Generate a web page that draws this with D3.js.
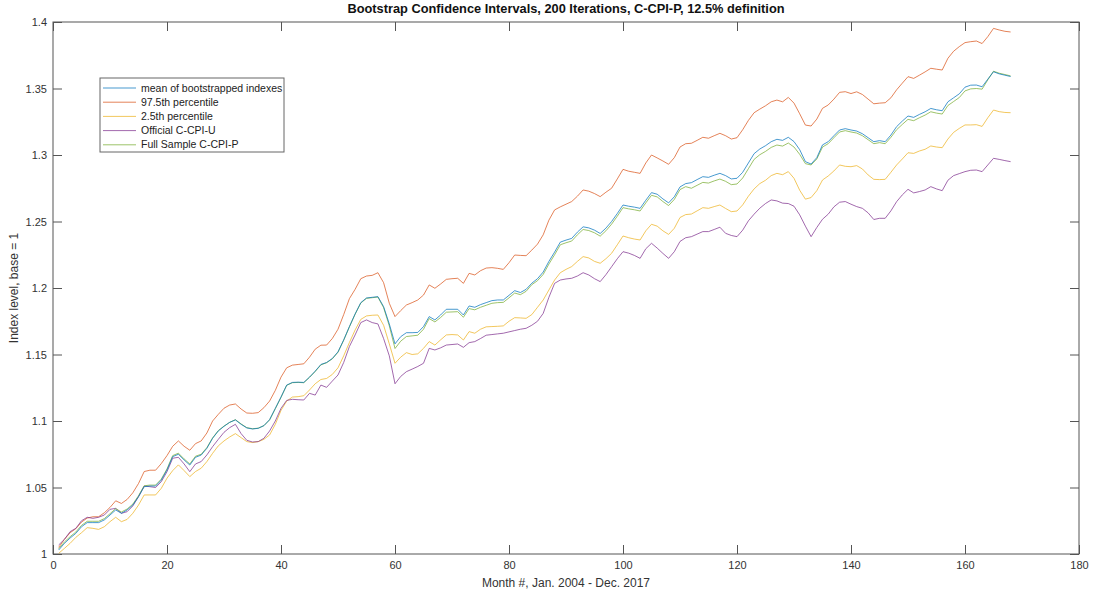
<!DOCTYPE html>
<html>
<head>
<meta charset="utf-8">
<script src="https://cdn.jsdelivr.net/npm/d3@7"></script>
<style>
  body { margin: 0; background: #fff; }
  svg { font-family: "Liberation Sans", Arial, sans-serif; }
  .axis path, .axis line { stroke: #555; }
  .axis text { fill: #333; font-size: 11px; }
</style>
</head>
<body>
<script>
const width = 1096
const height = 596
const margin = {top: 22, right: 17, bottom: 42, left: 53}

// month numbers 1..168 (Jan. 2004 - Dec. 2017)
const months = d3.range(1, 169)

const meanBoot = [
1.003,1.008,1.012,1.0155,1.0205,1.0236,1.0236,1.0236,1.0256,1.0293,1.0331,1.0306,1.0331,1.0368,1.0431,1.0506,1.0511,1.0511,1.0556,1.0632,
1.0732,1.075,1.0707,1.0669,1.0727,1.0744,1.0795,1.087,1.0925,1.096,1.099,1.1008,1.0975,1.0948,1.094,1.0945,1.0965,1.101,1.1095,1.118,
1.127,1.129,1.1292,1.129,1.133,1.1375,1.1425,1.144,1.147,1.152,1.161,1.171,1.1805,1.189,1.1925,1.193,1.1935,1.186,1.173,1.158,
1.1634,1.1664,1.1664,1.1666,1.171,1.1785,1.176,1.1797,1.184,1.184,1.184,1.1797,1.1865,1.1855,1.1875,1.189,1.1905,1.191,1.191,1.1945,
1.198,1.1966,1.199,1.2036,1.207,1.212,1.22,1.227,1.2345,1.236,1.2373,1.242,1.246,1.2452,1.2435,1.241,1.245,1.25,1.256,1.2624,
1.2615,1.2608,1.2599,1.266,1.2717,1.2705,1.267,1.264,1.2686,1.276,1.2785,1.2792,1.2815,1.2837,1.2832,1.2848,1.2862,1.2845,1.282,1.2825,
1.287,1.294,1.301,1.3045,1.307,1.31,1.3118,1.311,1.3133,1.3101,1.304,1.295,1.2932,1.298,1.3076,1.31,1.3145,1.3188,1.3198,1.3188,
1.318,1.316,1.313,1.31,1.3108,1.31,1.315,1.3213,1.3255,1.3293,1.3283,1.3305,1.3325,1.335,1.334,1.3333,1.34,1.343,1.346,1.351,
1.3525,1.3526,1.3513,1.357,1.3626,1.361,1.36,1.359]

const p975 = [
1.005,1.011,1.016,1.019,1.024,1.027,1.028,1.028,1.031,1.035,1.04,1.038,1.041,1.046,1.053,1.062,1.063,1.063,1.068,1.074,
1.081,1.085,1.081,1.078,1.083,1.085,1.091,1.1,1.105,1.1096,1.112,1.1128,1.109,1.106,1.1058,1.1063,1.11,1.115,1.123,1.133,
1.14,1.142,1.1425,1.143,1.148,1.154,1.157,1.1571,1.162,1.169,1.18,1.192,1.199,1.207,1.209,1.2095,1.2115,1.204,1.1885,1.1785,
1.183,1.1872,1.189,1.191,1.1947,1.2023,1.1998,1.203,1.2065,1.207,1.2073,1.2035,1.211,1.2098,1.213,1.215,1.2153,1.2148,1.214,1.219,
1.2248,1.2245,1.2243,1.2285,1.233,1.24,1.251,1.2587,1.261,1.263,1.265,1.269,1.2737,1.2728,1.271,1.2687,1.272,1.275,1.282,1.2892,
1.2878,1.287,1.2862,1.294,1.3,1.2978,1.2955,1.293,1.298,1.306,1.3085,1.3088,1.311,1.3133,1.3126,1.3145,1.3163,1.3145,1.312,1.313,
1.319,1.326,1.3318,1.3345,1.337,1.34,1.3413,1.34,1.3433,1.339,1.331,1.3225,1.3218,1.327,1.3351,1.3376,1.342,1.3471,1.3476,1.3462,
1.3475,1.3455,1.342,1.3385,1.339,1.3393,1.343,1.349,1.354,1.3589,1.3576,1.36,1.3625,1.3652,1.3645,1.3639,1.3727,1.378,1.3815,1.3845,
1.3852,1.3857,1.3838,1.389,1.3952,1.394,1.393,1.3925]

const p025 = [
1.0005,1.0042,1.008,1.0125,1.016,1.0198,1.0193,1.0185,1.0205,1.0243,1.0276,1.0243,1.026,1.0306,1.0368,1.0444,1.0444,1.0444,1.0494,1.057,
1.0627,1.067,1.0627,1.0582,1.062,1.0645,1.0695,1.0757,1.0813,1.085,1.088,1.0905,1.0875,1.0845,1.0838,1.0845,1.0862,1.0895,1.0975,1.108,
1.115,1.118,1.1183,1.119,1.1233,1.128,1.1312,1.132,1.135,1.14,1.149,1.159,1.1684,1.1764,1.179,1.1795,1.1797,1.172,1.158,1.1434,
1.148,1.1514,1.15,1.1505,1.1546,1.1597,1.1571,1.161,1.1647,1.165,1.1647,1.1609,1.1672,1.166,1.169,1.1708,1.171,1.1712,1.1715,1.175,
1.1777,1.1775,1.1772,1.18,1.1855,1.191,1.1985,1.206,1.2115,1.214,1.2161,1.22,1.2236,1.2226,1.22,1.2186,1.222,1.2261,1.2325,1.2391,
1.2378,1.2368,1.2361,1.243,1.2479,1.2465,1.243,1.2403,1.2449,1.253,1.2552,1.2556,1.258,1.2604,1.2599,1.2612,1.2624,1.2598,1.2574,1.2579,
1.2625,1.269,1.2745,1.2785,1.281,1.2845,1.2862,1.2852,1.2875,1.2825,1.2735,1.2668,1.268,1.2732,1.2812,1.2842,1.288,1.2925,1.2915,1.2912,
1.292,1.2895,1.285,1.2817,1.2815,1.2817,1.287,1.2925,1.297,1.3017,1.3012,1.303,1.3043,1.3068,1.306,1.3055,1.312,1.317,1.32,1.3226,
1.3226,1.3228,1.3215,1.328,1.3338,1.3326,1.332,1.3318]

const officialCU = [
1.0068,1.011,1.0168,1.0193,1.025,1.0276,1.0268,1.0276,1.0293,1.0336,1.0343,1.0306,1.0318,1.0361,1.0431,1.0511,1.0506,1.05,1.0544,1.0619,
1.072,1.0727,1.0677,1.0619,1.0677,1.0695,1.0745,1.0807,1.0862,1.0915,1.095,1.0975,1.0905,1.0855,1.0842,1.0845,1.087,1.0925,1.1,1.1095,
1.1155,1.1163,1.116,1.1158,1.1208,1.1195,1.127,1.1253,1.13,1.1346,1.144,1.156,1.1647,1.174,1.176,1.174,1.173,1.162,1.149,1.128,
1.1335,1.1371,1.139,1.141,1.1434,1.1546,1.1534,1.155,1.1571,1.1575,1.1579,1.1554,1.1589,1.1597,1.162,1.1645,1.165,1.1655,1.166,1.167,
1.168,1.169,1.1697,1.172,1.175,1.1809,1.193,1.2035,1.206,1.2068,1.2073,1.209,1.2115,1.2098,1.207,1.2048,1.21,1.216,1.222,1.2273,
1.2262,1.2245,1.2223,1.2295,1.2336,1.23,1.226,1.2223,1.2273,1.235,1.2378,1.2386,1.2405,1.2424,1.2424,1.244,1.2457,1.2411,1.2395,1.2386,
1.2435,1.2505,1.2555,1.26,1.2635,1.2662,1.2655,1.2638,1.2635,1.2615,1.255,1.2465,1.2386,1.2455,1.2517,1.2555,1.261,1.2645,1.265,1.263,
1.2612,1.2599,1.2565,1.2515,1.2524,1.2524,1.258,1.2649,1.27,1.2742,1.2715,1.2725,1.2737,1.2762,1.2745,1.2732,1.281,1.2845,1.286,1.2875,
1.2885,1.2887,1.2875,1.2925,1.2975,1.2967,1.2958,1.295]

const fullSampleP = [
1.004,1.009,1.013,1.0165,1.0215,1.0246,1.0246,1.0246,1.0266,1.0303,1.0341,1.0316,1.0338,1.0375,1.0438,1.0513,1.0518,1.0518,1.0563,1.064,
1.074,1.0758,1.0715,1.0677,1.0735,1.075,1.08,1.0873,1.0928,1.0962,1.099,1.101,1.0978,1.095,1.0942,1.0946,1.0965,1.1008,1.1092,1.1178,
1.1268,1.1288,1.129,1.1288,1.1328,1.1372,1.1422,1.1438,1.1467,1.1517,1.1607,1.1707,1.1802,1.1887,1.1922,1.1927,1.1932,1.1852,1.1715,1.1545,
1.16,1.1635,1.164,1.1645,1.169,1.177,1.1745,1.1778,1.1818,1.182,1.1822,1.178,1.1845,1.1836,1.1855,1.187,1.1885,1.189,1.1892,1.1926,
1.1962,1.195,1.1975,1.2025,1.2055,1.2102,1.218,1.225,1.2325,1.234,1.2353,1.24,1.244,1.2432,1.2415,1.239,1.243,1.248,1.254,1.2604,
1.2595,1.2588,1.2579,1.264,1.2697,1.2685,1.265,1.262,1.2666,1.274,1.2762,1.275,1.2772,1.2794,1.2789,1.2805,1.2819,1.2802,1.2777,1.2782,
1.2827,1.2897,1.2967,1.3002,1.3027,1.3057,1.3075,1.3067,1.309,1.306,1.3005,1.2935,1.2925,1.297,1.306,1.3085,1.313,1.3173,1.3183,1.3173,
1.3165,1.3145,1.3115,1.3085,1.3093,1.3085,1.3133,1.319,1.323,1.3268,1.3258,1.328,1.33,1.3325,1.3315,1.3308,1.3372,1.3402,1.3432,1.3482,
1.3497,1.35,1.3495,1.3565,1.363,1.3615,1.3605,1.3595]

const seriesNames = ["mean of bootstrapped indexes", "97.5th percentile", "2.5th percentile", "Official C-CPI-U", "Full Sample C-CPI-P"]
const seriesValues = [meanBoot, p975, p025, officialCU, fullSampleP]
const seriesColors = ["#0072BD", "#D95319", "#EDB120", "#7E2F8E", "#77AC30"]
// green drawn under the blue so the blue stays on top where they overlap
const drawOrder = [1, 2, 3, 4, 0]

const xTicks = d3.range(0, 181, 20)
const yTicks = [1, 1.05, 1.1, 1.15, 1.2, 1.25, 1.3, 1.35, 1.4]

const svg = d3.select("body").append("svg")
    .attr("width", width)
    .attr("height", height)

const x = d3.scaleLinear().domain([0, 180]).range([margin.left, width - margin.right])
const y = d3.scaleLinear().domain([1, 1.4]).range([height - margin.bottom, margin.top])

const fmt = d => String(+d.toFixed(2))

// box
svg.append("rect")
    .attr("x", x(0)).attr("y", y(1.4))
    .attr("width", x(180) - x(0)).attr("height", y(1) - y(1.4))
    .attr("fill", "#fff").attr("stroke", "#555").attr("stroke-width", 1)

svg.append("g").attr("class", "axis")
    .attr("transform", `translate(0,${y(1)})`)
    .call(d3.axisBottom(x).tickValues(xTicks).tickSizeInner(-9).tickSizeOuter(0).tickPadding(7).tickFormat(fmt))
svg.append("g").attr("class", "axis")
    .attr("transform", `translate(0,${y(1.4)})`)
    .call(d3.axisTop(x).tickValues(xTicks).tickSizeInner(-9).tickSizeOuter(0).tickFormat(""))
svg.append("g").attr("class", "axis")
    .attr("transform", `translate(${x(0)},0)`)
    .call(d3.axisLeft(y).tickValues(yTicks).tickSizeInner(-9).tickSizeOuter(0).tickPadding(6).tickFormat(fmt))
svg.append("g").attr("class", "axis")
    .attr("transform", `translate(${x(180)},0)`)
    .call(d3.axisRight(y).tickValues(yTicks).tickSizeInner(-9).tickSizeOuter(0).tickFormat(""))
svg.selectAll(".axis .domain").remove()

const line = d3.line()
    .x((d, i) => x(months[i]))
    .y(d => y(d))

svg.append("g").selectAll("path")
  .data(drawOrder)
  .join("path")
    .attr("d", k => line(seriesValues[k]))
    .attr("fill", "none")
    .attr("stroke", k => seriesColors[k])
    .attr("stroke-opacity", 0.72)
    .attr("stroke-width", 1)

svg.append("text")
    .attr("x", (x(0) + x(180)) / 2).attr("y", 13)
    .attr("text-anchor", "middle")
    .attr("font-size", 12.8).attr("font-weight", "bold").attr("fill", "#111")
    .text("Bootstrap Confidence Intervals, 200 Iterations, C-CPI-P, 12.5% definition")

svg.append("text")
    .attr("x", (x(0) + x(180)) / 2).attr("y", 587)
    .attr("text-anchor", "middle")
    .attr("font-size", 12).attr("fill", "#333")
    .text("Month #, Jan. 2004 - Dec. 2017")

svg.append("text")
    .attr("transform", `translate(18,${(y(1) + y(1.4)) / 2}) rotate(-90)`)
    .attr("text-anchor", "middle")
    .attr("font-size", 12).attr("fill", "#333")
    .text("Index level, base = 1")

// legend
const legend = svg.append("g").attr("transform", "translate(100,78)")
legend.append("rect")
    .attr("width", 184).attr("height", 74)
    .attr("fill", "#fff").attr("stroke", "#666").attr("stroke-width", 1)
const item = legend.selectAll("g.item")
  .data(seriesNames)
  .join("g").attr("class", "item")
    .attr("transform", (d, i) => `translate(0,${10 + i * 14.2})`)
item.append("line")
    .attr("x1", 3).attr("x2", 36)
    .attr("stroke", (d, i) => seriesColors[i]).attr("stroke-opacity", 0.72)
item.append("text")
    .attr("x", 41).attr("dy", "0.35em")
    .attr("font-size", 10.5).attr("fill", "#222")
    .text(d => d)
</script>
</body>
</html>
